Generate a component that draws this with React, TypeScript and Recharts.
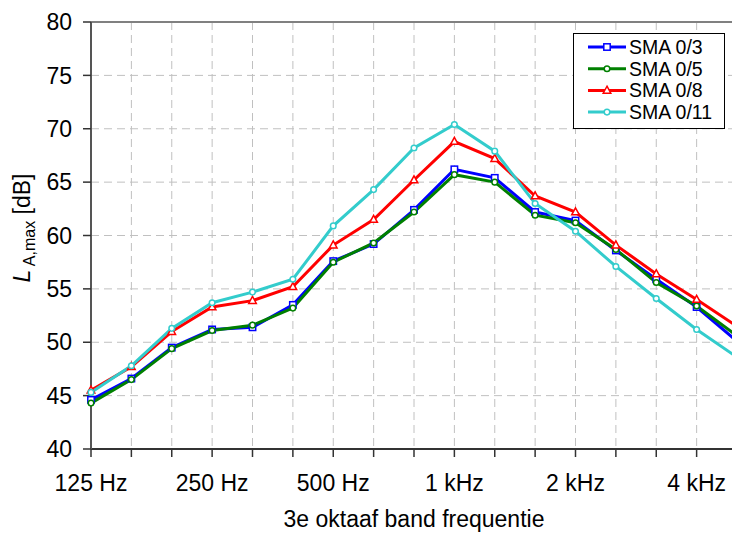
import React from "react";
import {
  LineChart,
  Line,
  XAxis,
  YAxis,
  CartesianGrid,
  ReferenceLine,
  Label,
} from "recharts";

const bands = [
  "125 Hz", "160 Hz", "200 Hz", "250 Hz", "315 Hz", "400 Hz", "500 Hz", "630 Hz",
  "800 Hz", "1 kHz", "1.25 kHz", "1.6 kHz", "2 kHz", "2.5 kHz", "3.15 kHz", "4 kHz", "5 kHz",
];
const octaveLabels = ["125 Hz", "250 Hz", "500 Hz", "1 kHz", "2 kHz", "4 kHz"];

const sma03 = [44.6, 46.6, 49.5, 51.2, 51.4, 53.5, 57.6, 59.2, 62.4, 66.2, 65.4, 62.2, 61.4, 58.6, 55.9, 53.3, 50.1];
const sma05 = [44.3, 46.5, 49.4, 51.1, 51.6, 53.2, 57.5, 59.3, 62.2, 65.7, 65.0, 61.9, 61.2, 58.7, 55.6, 53.4, 50.6];
const sma08 = [45.5, 47.7, 51.0, 53.3, 53.9, 55.2, 59.1, 61.5, 65.2, 68.8, 67.2, 63.7, 62.2, 59.1, 56.4, 54.0, 51.5];
const sma011 = [45.3, 47.8, 51.3, 53.7, 54.7, 55.9, 60.9, 64.3, 68.2, 70.4, 67.9, 63.0, 60.4, 57.1, 54.1, 51.2, 48.6];

const yTicks = [40, 45, 50, 55, 60, 65, 70, 75, 80];

const data = bands.map((f, i) => ({
  f,
  sma03: sma03[i],
  sma05: sma05[i],
  sma08: sma08[i],
  sma011: sma011[i],
}));

type Shape = "square" | "circle" | "triangle";

const series: { key: string; name: string; color: string; shape: Shape }[] = [
  { key: "sma03", name: "SMA 0/3", color: "#0000ff", shape: "square" },
  { key: "sma05", name: "SMA 0/5", color: "#008000", shape: "circle" },
  { key: "sma08", name: "SMA 0/8", color: "#ff0000", shape: "triangle" },
  { key: "sma011", name: "SMA 0/11", color: "#33cccc", shape: "circle" },
];

const Marker = ({ cx, cy, color, shape }: { cx: number; cy: number; color: string; shape: Shape }) => {
  if (cx == null || cy == null) return null;
  if (shape === "square")
    return <rect x={cx - 3.2} y={cy - 3.2} width={6.4} height={6.4} fill="#fff" stroke={color} strokeWidth={1.5} />;
  if (shape === "triangle")
    return (
      <polygon
        points={`${cx},${cy - 4.2} ${cx + 3.8},${cy + 2.8} ${cx - 3.8},${cy + 2.8}`}
        fill="#fff"
        stroke={color}
        strokeWidth={1.5}
      />
    );
  return <circle cx={cx} cy={cy} r={2.8} fill="#fff" stroke={color} strokeWidth={1.5} />;
};

// legend is drawn as an overlay so it doesn't eat plot height
const LegendBox = () => (
  <svg width={152} height={96} style={{ display: "block" }}>
    <rect x={0.5} y={0.5} width={151} height={95} fill="#fff" stroke="#000" strokeWidth={1} />
    {series.map((s, i) => {
      const y = 14 + i * 21.7;
      return (
        <g key={s.key}>
          <line x1={15} x2={53} y1={y} y2={y} stroke={s.color} strokeWidth={3} />
          <Marker cx={34} cy={y} color={s.color} shape={s.shape} />
          <text x={56} y={y + 7} fontSize={19.5} fill="#000">
            {s.name}
          </text>
        </g>
      );
    })}
  </svg>
);

const YTitle = () => (
  <text transform="translate(30,228) rotate(-90)" textAnchor="middle" fill="#000" fontSize={23}>
    <tspan fontStyle="italic">L</tspan>
    <tspan fontSize={16} dy={5}> A,max</tspan>
    <tspan dy={-5}> [dB]</tspan>
  </text>
);

export default function App() {
  return (
    <div
      style={{
        position: "fixed",
        left: 0,
        top: 0,
        width: 732,
        height: 534,
        overflow: "hidden",
        background: "#fff",
        fontFamily: "'Liberation Sans', Arial, sans-serif",
      }}
    >
      <LineChart width={760} height={534} data={data} margin={{ top: 22, right: 23, bottom: 0, left: 0 }}>
        <CartesianGrid stroke="#c0c0c0" strokeDasharray="8 5" />
        <ReferenceLine y={80} stroke="#808080" strokeWidth={2} />
        <XAxis
          dataKey="f"
          scale="point"
          interval={0}
          height={85}
          tickSize={8}
          tickMargin={18}
          tickFormatter={(v: string) => (octaveLabels.includes(v) ? v : "")}
          tick={{ fontSize: 23, fill: "#000" }}
          axisLine={{ stroke: "#333", strokeWidth: 2 }}
          tickLine={{ stroke: "#333", strokeWidth: 1.5 }}
        >
          <Label value="3e oktaaf band frequentie" position="insideBottom" offset={7} fontSize={23} fill="#000" />
        </XAxis>
        <YAxis
          type="number"
          domain={[40, 80]}
          ticks={yTicks}
          width={91}
          tickSize={8}
          tickMargin={11}
          tick={{ fontSize: 23, fill: "#000" }}
          axisLine={{ stroke: "#555", strokeWidth: 2 }}
          tickLine={{ stroke: "#333", strokeWidth: 1.5 }}
        >
          <Label content={() => <YTitle />} />
        </YAxis>
        {series.map((s) => (
          <Line
            key={s.key}
            dataKey={s.key}
            name={s.name}
            stroke={s.color}
            strokeWidth={3}
            isAnimationActive={false}
            dot={(p: any) => <Marker key={`${s.key}-${p.index}`} cx={p.cx} cy={p.cy} color={s.color} shape={s.shape} />}
            activeDot={false}
          />
        ))}
      </LineChart>
      <div style={{ position: "absolute", left: 573, top: 33 }}>
        <LegendBox />
      </div>
    </div>
  );
}
